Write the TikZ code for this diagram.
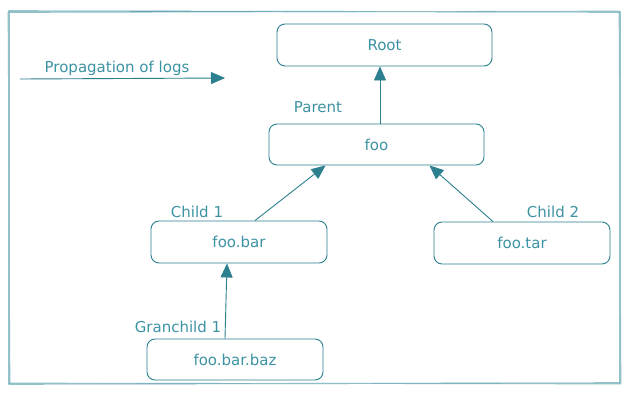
\documentclass[tikz,border=0pt]{standalone}
\usepackage{fontspec}
\setmainfont{DejaVu Sans}
\usetikzlibrary{arrows.meta}
\definecolor{tealline}{HTML}{2B7F8E}
\definecolor{tealtext}{HTML}{3D93A3}
\definecolor{framecol}{HTML}{5FA3B0}
\begin{document}
\begin{tikzpicture}[x=1pt,y=-1pt,
  box/.style={draw=tealline,line width=0.9pt,rounded corners=8pt,text=tealtext,font=\fontsize{15}{17}\selectfont,inner sep=0pt},
  lbl/.style={text=tealtext,font=\fontsize{15}{17}\selectfont,inner sep=0pt},
  arr/.style={draw=tealline,line width=0.9pt,-{Triangle[length=14pt,width=12pt,fill=tealline]}}
]
\useasboundingbox (0,0) rectangle (629,418);
\fill[white] (0,0) rectangle (629,418);
% frame
\draw[framecol,line width=1.1pt] (9,11) -- (620,12) -- (620,383) -- (9,384) -- cycle;
\draw[framecol!70,line width=0.7pt] (8,12.5) -- (619,11) -- (621,384) -- (10,383) -- cycle;
% nodes
\node[box,minimum width=215pt,minimum height=42pt] (root) at (384.5,45) {Root};
\node[box,minimum width=215pt,minimum height=41pt] (foo) at (376.5,144.5) {foo};
\node[box,minimum width=176pt,minimum height=42pt] (foobar) at (239,242) {foo.bar};
\node[box,minimum width=176pt,minimum height=42pt] (footar) at (522,243) {foo.tar};
\node[box,minimum width=176pt,minimum height=41pt] (foobarbaz) at (235,359.5) {foo.bar.baz};
% labels
\node[lbl] (lprop) at (117,68) {Propagation of logs};
\node[lbl] (lparent) at (318,107) {Parent};
\node[lbl] (lchild1) at (197,212) {Child 1};
\node[lbl] (lchild2) at (553,212) {Child 2};
\node[lbl] (lgrand) at (178,327) {Granchild 1};
% propagation arrow
\coordinate (ps) at (20,79);
\coordinate (pe) at (225,78);
\draw[arr] (ps) -- (pe);
% connectors
\draw[arr] ([xshift=3.5pt]foo.north) -- ([xshift=-4.5pt]root.south);
\draw[arr] ([xshift=16pt]foobar.north) -- ([xshift=-51pt]foo.south);
\draw[arr] ([xshift=-29pt]footar.north) -- ([xshift=53pt]foo.south);
\draw[arr] ([xshift=-10pt]foobarbaz.north) -- ([xshift=-12pt]foobar.south);
\end{tikzpicture}
\end{document}
